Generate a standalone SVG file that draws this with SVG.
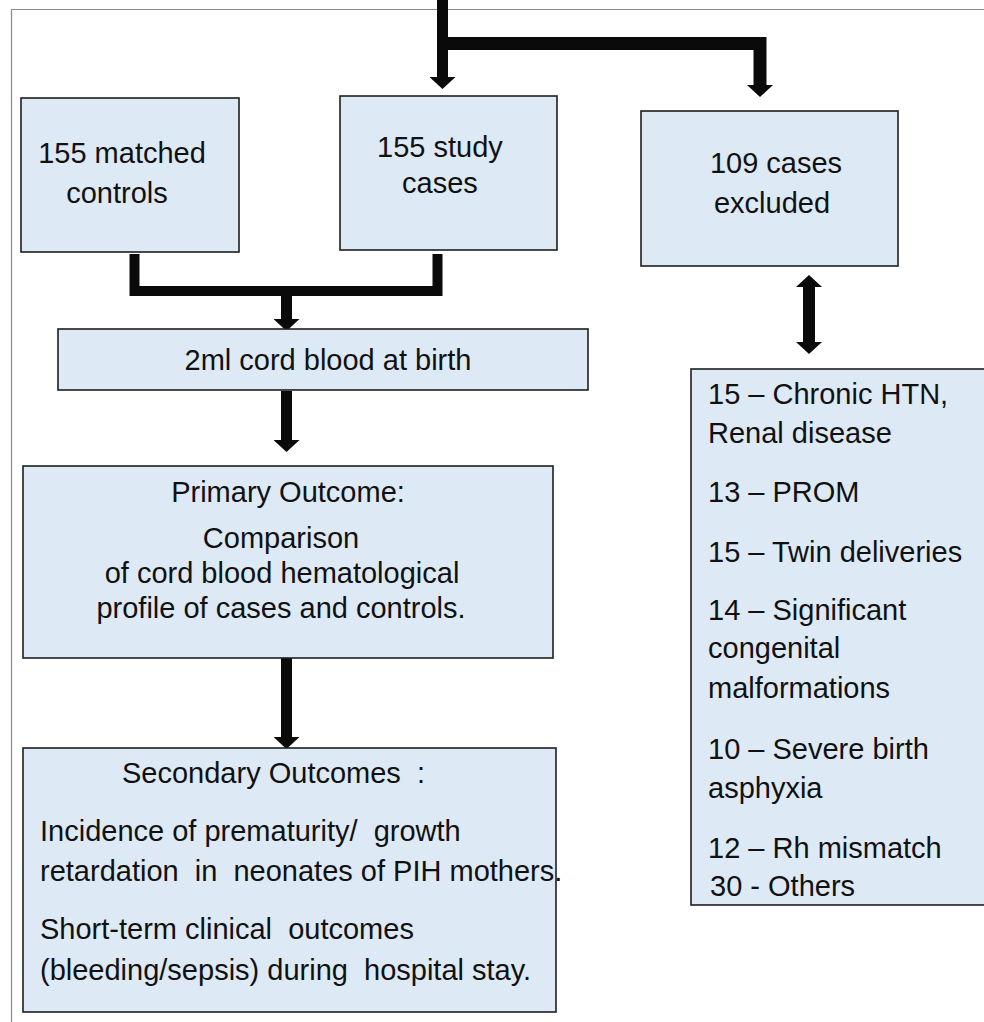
<svg xmlns="http://www.w3.org/2000/svg" width="984" height="1022" viewBox="0 0 984 1022">
<defs>
<style>
.box{fill:#dde9f5;stroke:#1e1e1e;stroke-width:1.6}
.t{font-family:"Liberation Sans",Arial,sans-serif;font-size:29px;fill:#111}
.m{text-anchor:middle}
.bar{fill:none;stroke:#0a0a0a;stroke-linejoin:miter}
.frame{fill:none;stroke:#888;stroke-width:1.2}
</style>
<marker id="ah" markerUnits="userSpaceOnUse" markerWidth="13" markerHeight="26" refX="0" refY="13" orient="auto-start-reverse" viewBox="0 0 13 26">
<path d="M0,0 L12,13 L0,26 z" fill="#0a0a0a"/>
</marker>
</defs>
<rect width="984" height="1022" fill="#fff"/>
<path class="frame" d="M11.5,1022 V9.5 H984"/>

<g id="connectors">
<path class="bar" stroke-width="11" d="M442.5,0 V77" marker-end="url(#ah)"/>
<path class="bar" stroke-width="13" d="M437,43.5 H760 V85" marker-end="url(#ah)"/>
<path class="bar" stroke-width="10" d="M134.5,254 V291 H437.5 V254"/>
<path class="bar" stroke-width="11" d="M286.5,291 V319" marker-end="url(#ah)"/>
<path class="bar" stroke-width="11" d="M286.5,391 V440" marker-end="url(#ah)"/>
<path class="bar" stroke-width="11" d="M286.5,658 V737" marker-end="url(#ah)"/>
<path class="bar" stroke-width="12" d="M809,287 V342" marker-start="url(#ah)" marker-end="url(#ah)"/>
</g>

<g id="controls">
<rect class="box" x="21" y="98" width="218" height="154"/>
<text class="t m" x="122" y="163">155 matched</text>
<text class="t m" x="117" y="203">controls</text>
</g>

<g id="study">
<rect class="box" x="340" y="96" width="217" height="154"/>
<text class="t m" x="440" y="157">155 study</text>
<text class="t m" x="440" y="193">cases</text>
</g>

<g id="excluded">
<rect class="box" x="641" y="111" width="257" height="155"/>
<text class="t m" x="776" y="173">109 cases</text>
<text class="t m" x="772" y="213">excluded</text>
</g>

<g id="cordblood">
<rect class="box" x="58" y="329" width="530" height="61"/>
<text class="t m" x="328" y="370">2ml cord blood at birth</text>
</g>

<g id="primary">
<rect class="box" x="23" y="466" width="530" height="192"/>
<text class="t m" x="288" y="502">Primary Outcome:</text>
<text class="t m" x="281" y="548">Comparison</text>
<text class="t m" x="282" y="583">of cord blood hematological</text>
<text class="t m" x="281" y="618">profile of cases and controls.</text>
</g>

<g id="secondary">
<rect class="box" x="23" y="748" width="533" height="264"/>
<text class="t" x="122" y="783" xml:space="preserve">Secondary Outcomes  :</text>
<text class="t" x="40" y="841" xml:space="preserve">Incidence of prematurity/  growth</text>
<text class="t" x="40" y="881" xml:space="preserve">retardation  in  neonates of PIH mothers.</text>
<text class="t" x="40" y="939" xml:space="preserve">Short-term clinical  outcomes</text>
<text class="t" x="40" y="980" xml:space="preserve">(bleeding/sepsis) during  hospital stay.</text>
</g>

<g id="reasons">
<rect class="box" x="691" y="369" width="300" height="536"/>
<text class="t" x="708" y="404">15 – Chronic HTN,</text>
<text class="t" x="708" y="443">Renal disease</text>
<text class="t" x="708" y="502">13 – PROM</text>
<text class="t" x="708" y="562">15 – Twin deliveries</text>
<text class="t" x="708" y="620">14 – Significant</text>
<text class="t" x="708" y="658">congenital</text>
<text class="t" x="708" y="698">malformations</text>
<text class="t" x="708" y="759">10 – Severe birth</text>
<text class="t" x="708" y="798">asphyxia</text>
<text class="t" x="708" y="858">12 – Rh mismatch</text>
<text class="t" x="710" y="896">30 - Others</text>
</g>
</svg>
